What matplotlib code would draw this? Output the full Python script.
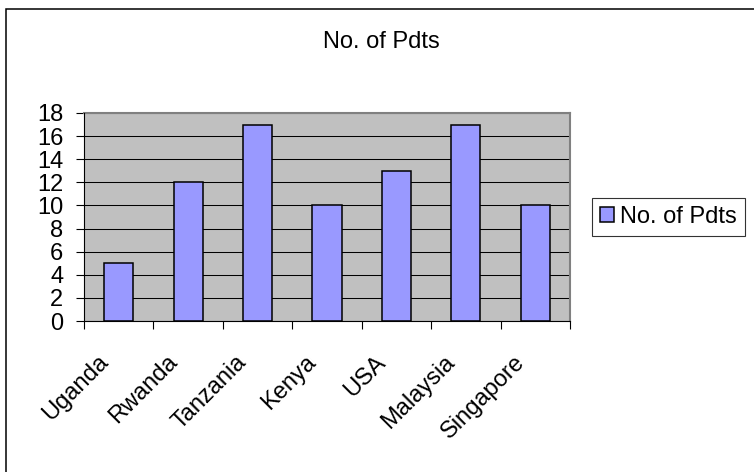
import matplotlib
matplotlib.use("Agg")
import matplotlib.pyplot as plt
from matplotlib.patches import Rectangle
from matplotlib.transforms import ScaledTranslation, blended_transform_factory

countries = ["Uganda", "Rwanda", "Tanzania", "Kenya", "USA", "Malaysia", "Singapore"]
pdts = [5, 12, 17, 10, 13, 17, 10]
series_name = "No. of Pdts"
y_ticks = list(range(0, 19, 2))

plt.rcParams["font.family"] = ["Liberation Sans", "DejaVu Sans"]
FS = 17

W, H = 754, 472
fig = plt.figure(figsize=(W / 100, H / 100), dpi=100)
fig.patch.set_facecolor("white")

# chart-area frame (runs past the right and bottom edges)
fig.patches.append(Rectangle((6 / W, -0.2), 1.5, 1 - 9 / H + 0.2,
                             transform=fig.transFigure, fill=False,
                             edgecolor="black", linewidth=1.1))

ax = fig.add_axes([84 / W, 1 - 321 / H, (570 - 84) / W, (321 - 113) / H])
ax.set_facecolor("#C0C0C0")

x = list(range(len(countries)))
bars = ax.bar(x, pdts, width=0.42, color="#9999FF", edgecolor="black",
              linewidth=1.1, zorder=3, label=series_name)

ax.set_xlim(-0.5, len(countries) - 0.5)
ax.set_ylim(0, 18)
ax.set_yticks(y_ticks)
ax.set_yticklabels([str(v) for v in y_ticks], fontsize=FS)
ax.yaxis.grid(True, color="black", linewidth=0.75, zorder=1)
ax.set_axisbelow(True)

# tick marks between categories, labels under each category
ax.set_xticks([i - 0.5 for i in range(len(countries) + 1)])
ax.set_xticklabels([])
ax.tick_params(axis="x", direction="out", length=6, width=0.8, color="black")
ax.tick_params(axis="y", direction="out", length=6, width=0.8, color="black", pad=9)

trans = blended_transform_factory(ax.transData, ax.transAxes)
for i, name in enumerate(countries):
    off = ScaledTranslation(-14 / 100, -38 / 100, fig.dpi_scale_trans)
    ax.text(i, 0, name, transform=trans + off, rotation=45,
            rotation_mode="anchor", ha="right", va="center", fontsize=FS)

for side in ("left", "bottom"):
    ax.spines[side].set_color("black")
    ax.spines[side].set_linewidth(0.8)
    ax.spines[side].set_zorder(4)
for side in ("top", "right"):
    ax.spines[side].set_color("#808080")
    ax.spines[side].set_linewidth(1.5)

fig.text(381 / W, 1 - 48 / H, series_name, ha="center", va="baseline", fontsize=FS)

leg = fig.legend(handles=[bars], labels=[series_name], loc="center left",
                 bbox_to_anchor=(592 / W, 1 - 217 / H), fontsize=FS,
                 frameon=True, fancybox=False, shadow=False, borderpad=0.32,
                 handlelength=0.6, handleheight=0.6, handletextpad=0.28,
                 borderaxespad=0.0)
leg.get_frame().set_edgecolor("black")
leg.get_frame().set_linewidth(0.8)

fig.savefig("out.png", dpi=100)
